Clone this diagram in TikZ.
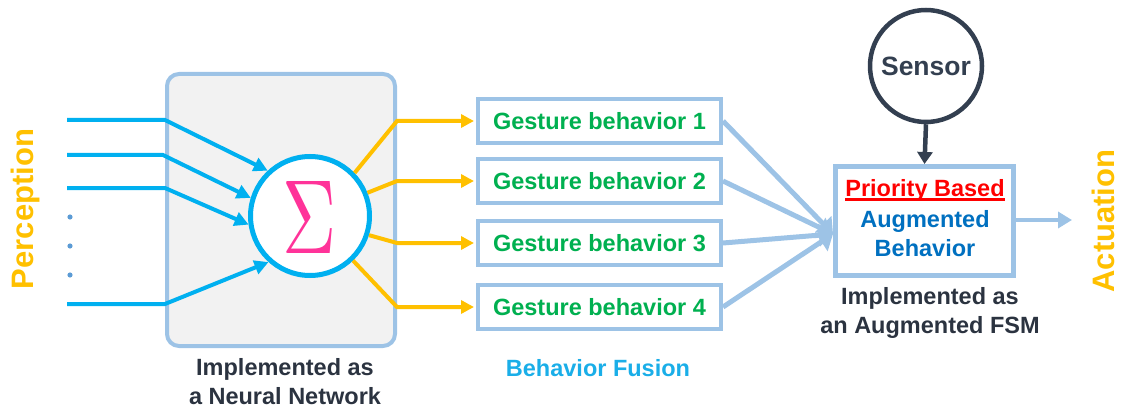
\documentclass[tikz,border=0pt]{standalone}
\usepackage{fontspec}
\setmainfont{Liberation Sans}
\usetikzlibrary{arrows.meta}
\definecolor{cyanline}{HTML}{00B0F0}
\definecolor{amber}{HTML}{FFC000}
\definecolor{paleblue}{HTML}{9DC3E6}
\definecolor{leafgreen}{HTML}{00B050}
\definecolor{deepblue}{HTML}{0070C0}
\definecolor{slate}{HTML}{333F50}
\definecolor{inkgray}{HTML}{2B3340}
\definecolor{hotpink}{HTML}{FF3399}
\definecolor{boxfill}{HTML}{F2F2F2}
\definecolor{dotblue}{HTML}{5B9BD5}
\definecolor{fusionblue}{HTML}{1AAEE8}
\tikzset{
  txt/.style={font=\fontsize{23.5}{29}\bfseries\selectfont, align=center, inner sep=0pt},
  sidelabel/.style={font=\fontsize{31}{31}\bfseries\selectfont, text=amber, rotate=90, inner sep=0pt},
  gbox/.style={draw=paleblue, line width=4pt, fill=white, minimum width=243pt, minimum height=44pt,
    inner sep=0pt, text=leafgreen, font=\fontsize{23.5}{29}\bfseries\selectfont},
  inarrow/.style={draw=cyanline, line width=4pt, -{Triangle[length=14pt,width=14pt]}},
  outarrow/.style={draw=amber, line width=4pt, -{Triangle[length=13pt,width=13pt]}},
  mergearrow/.style={draw=paleblue, line width=5pt, -{Triangle[length=14pt,width=22pt]}},
}
\begin{document}
\begin{tikzpicture}[x=1pt,y=-1pt]
\useasboundingbox (0,0) rectangle (1122,409);

% side labels
\node[sidelabel] (perc) at (25,209) {Perception};
\node[sidelabel] (act) at (1103,221) {Actuation};

% neural network block
\node[draw=paleblue, line width=4pt, fill=boxfill, rounded corners=12pt,
      minimum width=228pt, minimum height=272pt] (nn) at (281,210) {};
\node[draw=cyanline, line width=5pt, fill=white, circle, minimum size=119pt, inner sep=0pt] (sig) at (310,216) {};
\node[text=hotpink, inner sep=0pt] (sigma) at (310,217) {\resizebox{54pt}{72pt}{$\Sigma$}};

% inputs
\coordinate (i1) at (67,120); \coordinate (b1) at (165,120);
\coordinate (i2) at (67,155); \coordinate (b2) at (163,155);
\coordinate (i3) at (67,188); \coordinate (b3) at (165,188);
\coordinate (i4) at (67,304); \coordinate (b4) at (165,304);
\draw[inarrow] (i1) -- (b1) -- (sig.133);
\draw[inarrow] (i2) -- (b2) -- (sig.163);
\draw[inarrow] (i3) -- (b3) -- (sig.188);
\draw[inarrow] (i4) -- (b4) -- (sig.228);
\fill[dotblue] (70,217) circle (2.6pt) (70,246) circle (2.6pt) (70,275) circle (2.6pt);

% gesture behaviours
\node[gbox] (g1) at (599.5,121) {Gesture behavior 1};
\node[gbox] (g2) at (599.5,181) {Gesture behavior 2};
\node[gbox] (g3) at (599.5,243) {Gesture behavior 3};
\node[gbox] (g4) at (599.5,307) {Gesture behavior 4};

% outputs of the summation
\coordinate (o1) at (397,121);
\coordinate (o2) at (397,181);
\coordinate (o3) at (397,243);
\coordinate (o4) at (397,307);
\draw[outarrow, shorten >=2pt] (sig.44) -- (o1) -- (g1.west);
\draw[outarrow, shorten >=2pt] (sig.22) -- (o2) -- (g2.west);
\draw[outarrow, shorten >=2pt] (sig.-18) -- (o3) -- (g3.west);
\draw[outarrow, shorten >=2pt] (sig.-46) -- (o4) -- (g4.west);

% augmented FSM
\node[draw=paleblue, line width=5pt, fill=white, minimum width=178pt, minimum height=109pt] (fsm) at (924.5,221) {};
\node[txt, text=red] (prio) at (925,190) {Priority Based};
\draw[red, line width=2.2pt] ([yshift=-3.5pt]prio.base west) -- ([yshift=-3.5pt]prio.base east);
\node[txt, text=deepblue] (aug) at (925,234) {Augmented\\Behavior};

\coordinate (m) at (833,234);
\draw[mergearrow] (g1.east) -- (m);
\draw[mergearrow] (g2.east) -- (m);
\draw[mergearrow] (g3.east) -- (m);
\draw[mergearrow] (g4.east) -- (m);

% sensor
\node[draw=slate, line width=4.5pt, circle, minimum size=112pt, inner sep=0pt, txt,
      font=\fontsize{26.5}{30}\bfseries\selectfont, text=slate] (sen) at (926,66) {Sensor};
\draw[draw=slate, line width=4.5pt, -{Triangle[length=12pt,width=15pt]}] (sen.south) -- (fsm.north);

% output
\coordinate (out) at (1072,220);
\draw[draw=paleblue, line width=4pt, -{Triangle[length=14pt,width=16pt]}] (fsm.east |- out) -- (out);

% captions
\node[txt, text=inkgray] (cap1) at (285,382) {Implemented as\\a Neural Network};
\node[txt, text=fusionblue] (cap2) at (598,368) {Behavior Fusion};
\node[txt, text=inkgray] (cap3) at (930,313) {Implemented as\\an Augmented FSM};
\end{tikzpicture}
\end{document}
